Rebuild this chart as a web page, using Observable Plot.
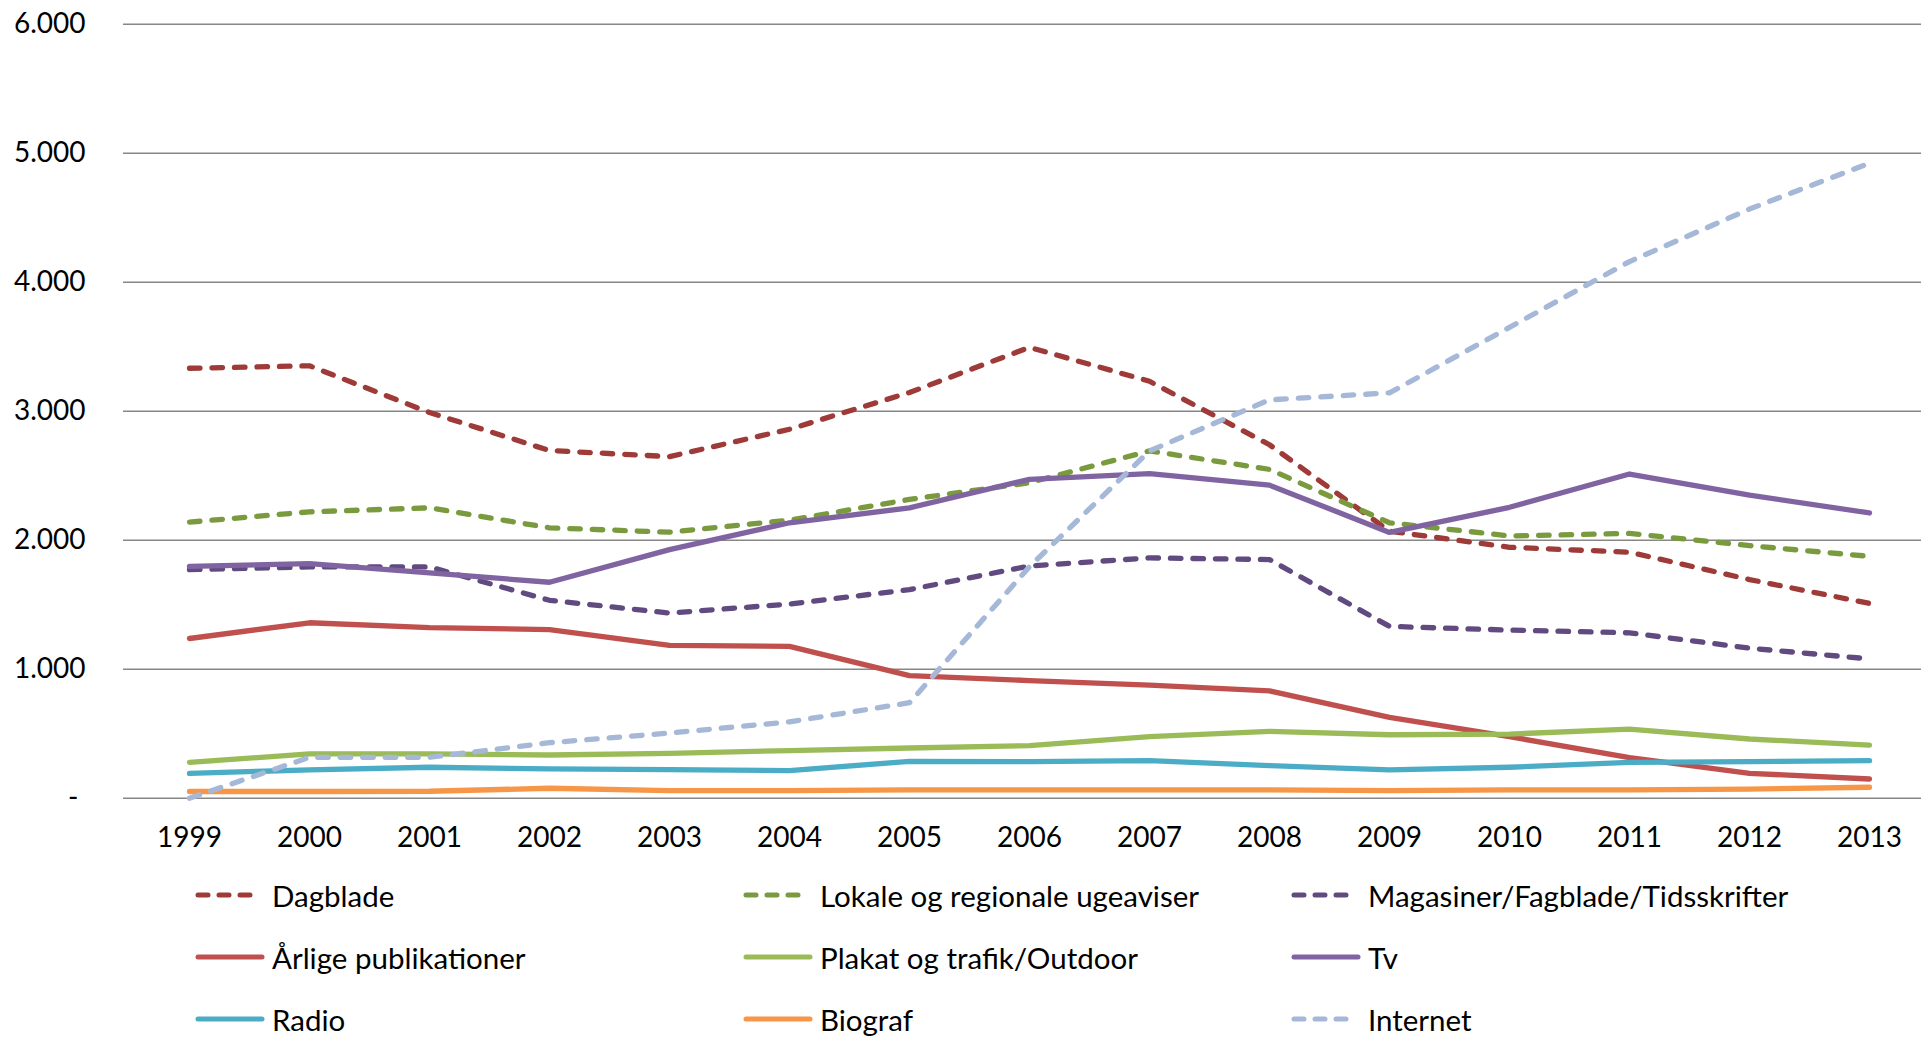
<!DOCTYPE html>
<html>
<head>
<meta charset="utf-8">
<script src="https://cdn.jsdelivr.net/npm/d3@7"></script>
<script src="https://cdn.jsdelivr.net/npm/@observablehq/plot@0.6"></script>
<style>
  html, body { margin: 0; padding: 0; background: #fff; overflow: hidden; }
  body { font-family: Lato, "Open Sans", sans-serif; }
  #legend { position: relative; width: 1921px; height: 173px; }
  .item { position: absolute; display: flex; align-items: center; height: 62px; font-size: 29.5px; color: #000; }
  .item svg { display: block; margin-right: 7px; }
</style>
</head>
<body>
<div id="chart"></div>
<div id="legend"></div>
<script>
const years = [1999, 2000, 2001, 2002, 2003, 2004, 2005, 2006, 2007, 2008, 2009, 2010, 2011, 2012, 2013];
const yTicks = [0, 1000, 2000, 3000, 4000, 5000, 6000];

const dagblade  = [3333, 3352, 2990, 2695, 2648, 2860, 3145, 3495, 3232, 2740, 2070, 1945, 1907, 1695, 1510];
const lokale    = [2140, 2220, 2251, 2096, 2062, 2155, 2316, 2446, 2692, 2549, 2135, 2033, 2053, 1958, 1875];
const magasiner = [1772, 1793, 1793, 1534, 1435, 1505, 1617, 1800, 1863, 1850, 1332, 1303, 1282, 1163, 1080];
const arlige    = [1238, 1360, 1322, 1307, 1185, 1177, 950, 912, 876, 832, 626, 477, 315, 193, 149];
const plakat    = [278, 343, 343, 335, 348, 369, 389, 407, 477, 518, 492, 497, 536, 459, 412];
const tv        = [1797, 1819, 1746, 1674, 1927, 2135, 2251, 2472, 2516, 2427, 2060, 2255, 2513, 2350, 2211];
const radio     = [193, 219, 240, 227, 222, 214, 286, 284, 291, 253, 219, 240, 278, 284, 291];
const biograf   = [52, 52, 54, 77, 59, 59, 64, 64, 64, 64, 59, 64, 64, 70, 85];
const internet  = [0, 317, 317, 430, 505, 592, 740, 1795, 2692, 3088, 3142, 3650, 4160, 4567, 4923];

const seriesNames = ["Dagblade", "Lokale og regionale ugeaviser", "Magasiner/Fagblade/Tidsskrifter",
  "Årlige publikationer", "Plakat og trafik/Outdoor", "Tv", "Radio", "Biograf", "Internet"];
const seriesValues = [dagblade, lokale, magasiner, arlige, plakat, tv, radio, biograf, internet];
const seriesColors = ["#9E3A37", "#7A9A3E", "#614A80", "#C0504D", "#9BBB59", "#8064A2", "#4BACC6", "#F79646", "#A6B8D8"];
const seriesDashed = [true, true, true, false, false, false, false, false, true];

const DASH = "10.5,12";
const fmt = d => d === 0 ? "-\u00a0" : d3.format(",")(d).replace(/,/g, ".");

const marks = [
  Plot.ruleY(yTicks, {stroke: "#878787", strokeWidth: 1.5, strokeOpacity: 1})
];
seriesNames.forEach((name, i) => {
  const data = years.map((y, j) => ({year: y, value: seriesValues[i][j]}));
  marks.push(Plot.line(data, {
    x: "year", y: "value",
    stroke: seriesColors[i], strokeWidth: 5.3,
    strokeLinecap: "round", strokeLinejoin: "round",
    strokeDasharray: seriesDashed[i] ? DASH : null
  }));
});

const chart = Plot.plot({
  width: 1921,
  height: 864,
  marginTop: 23.7,
  marginBottom: 66.3,
  marginLeft: 123,
  marginRight: 0,
  style: {fontFamily: "Lato, 'Open Sans', sans-serif", fontSize: "28px", color: "#000", background: "#fff"},
  x: {type: "point", domain: years, range: [184, 1874], padding: 0, label: null, tickSize: 0, tickPadding: 29, tickFormat: d => String(d)},
  y: {domain: [0, 6000], ticks: yTicks, label: null, tickSize: 0, tickPadding: 38, tickFormat: fmt},
  marks
});
document.getElementById("chart").appendChild(chart);

const legend = document.getElementById("legend");
const colX = [195, 743, 1291];
seriesNames.forEach((name, i) => {
  const row = Math.floor(i / 3), col = i % 3;
  const div = document.createElement("div");
  div.className = "item";
  div.style.left = colX[col] + "px";
  div.style.top = (row * 62) + "px";
  const ns = "http://www.w3.org/2000/svg";
  const svg = document.createElementNS(ns, "svg");
  svg.setAttribute("width", 70); svg.setAttribute("height", 10);
  const ln = document.createElementNS(ns, "line");
  ln.setAttribute("x1", 3); ln.setAttribute("x2", seriesDashed[i] ? 62 : 67);
  ln.setAttribute("y1", 5); ln.setAttribute("y2", 5);
  ln.setAttribute("stroke", seriesColors[i]); ln.setAttribute("stroke-width", 5);
  ln.setAttribute("stroke-linecap", "round");
  if (seriesDashed[i]) ln.setAttribute("stroke-dasharray", "10,11");
  svg.appendChild(ln);
  div.appendChild(svg);
  const span = document.createElement("span");
  span.textContent = name;
  div.appendChild(span);
  legend.appendChild(div);
});
</script>
</body>
</html>
